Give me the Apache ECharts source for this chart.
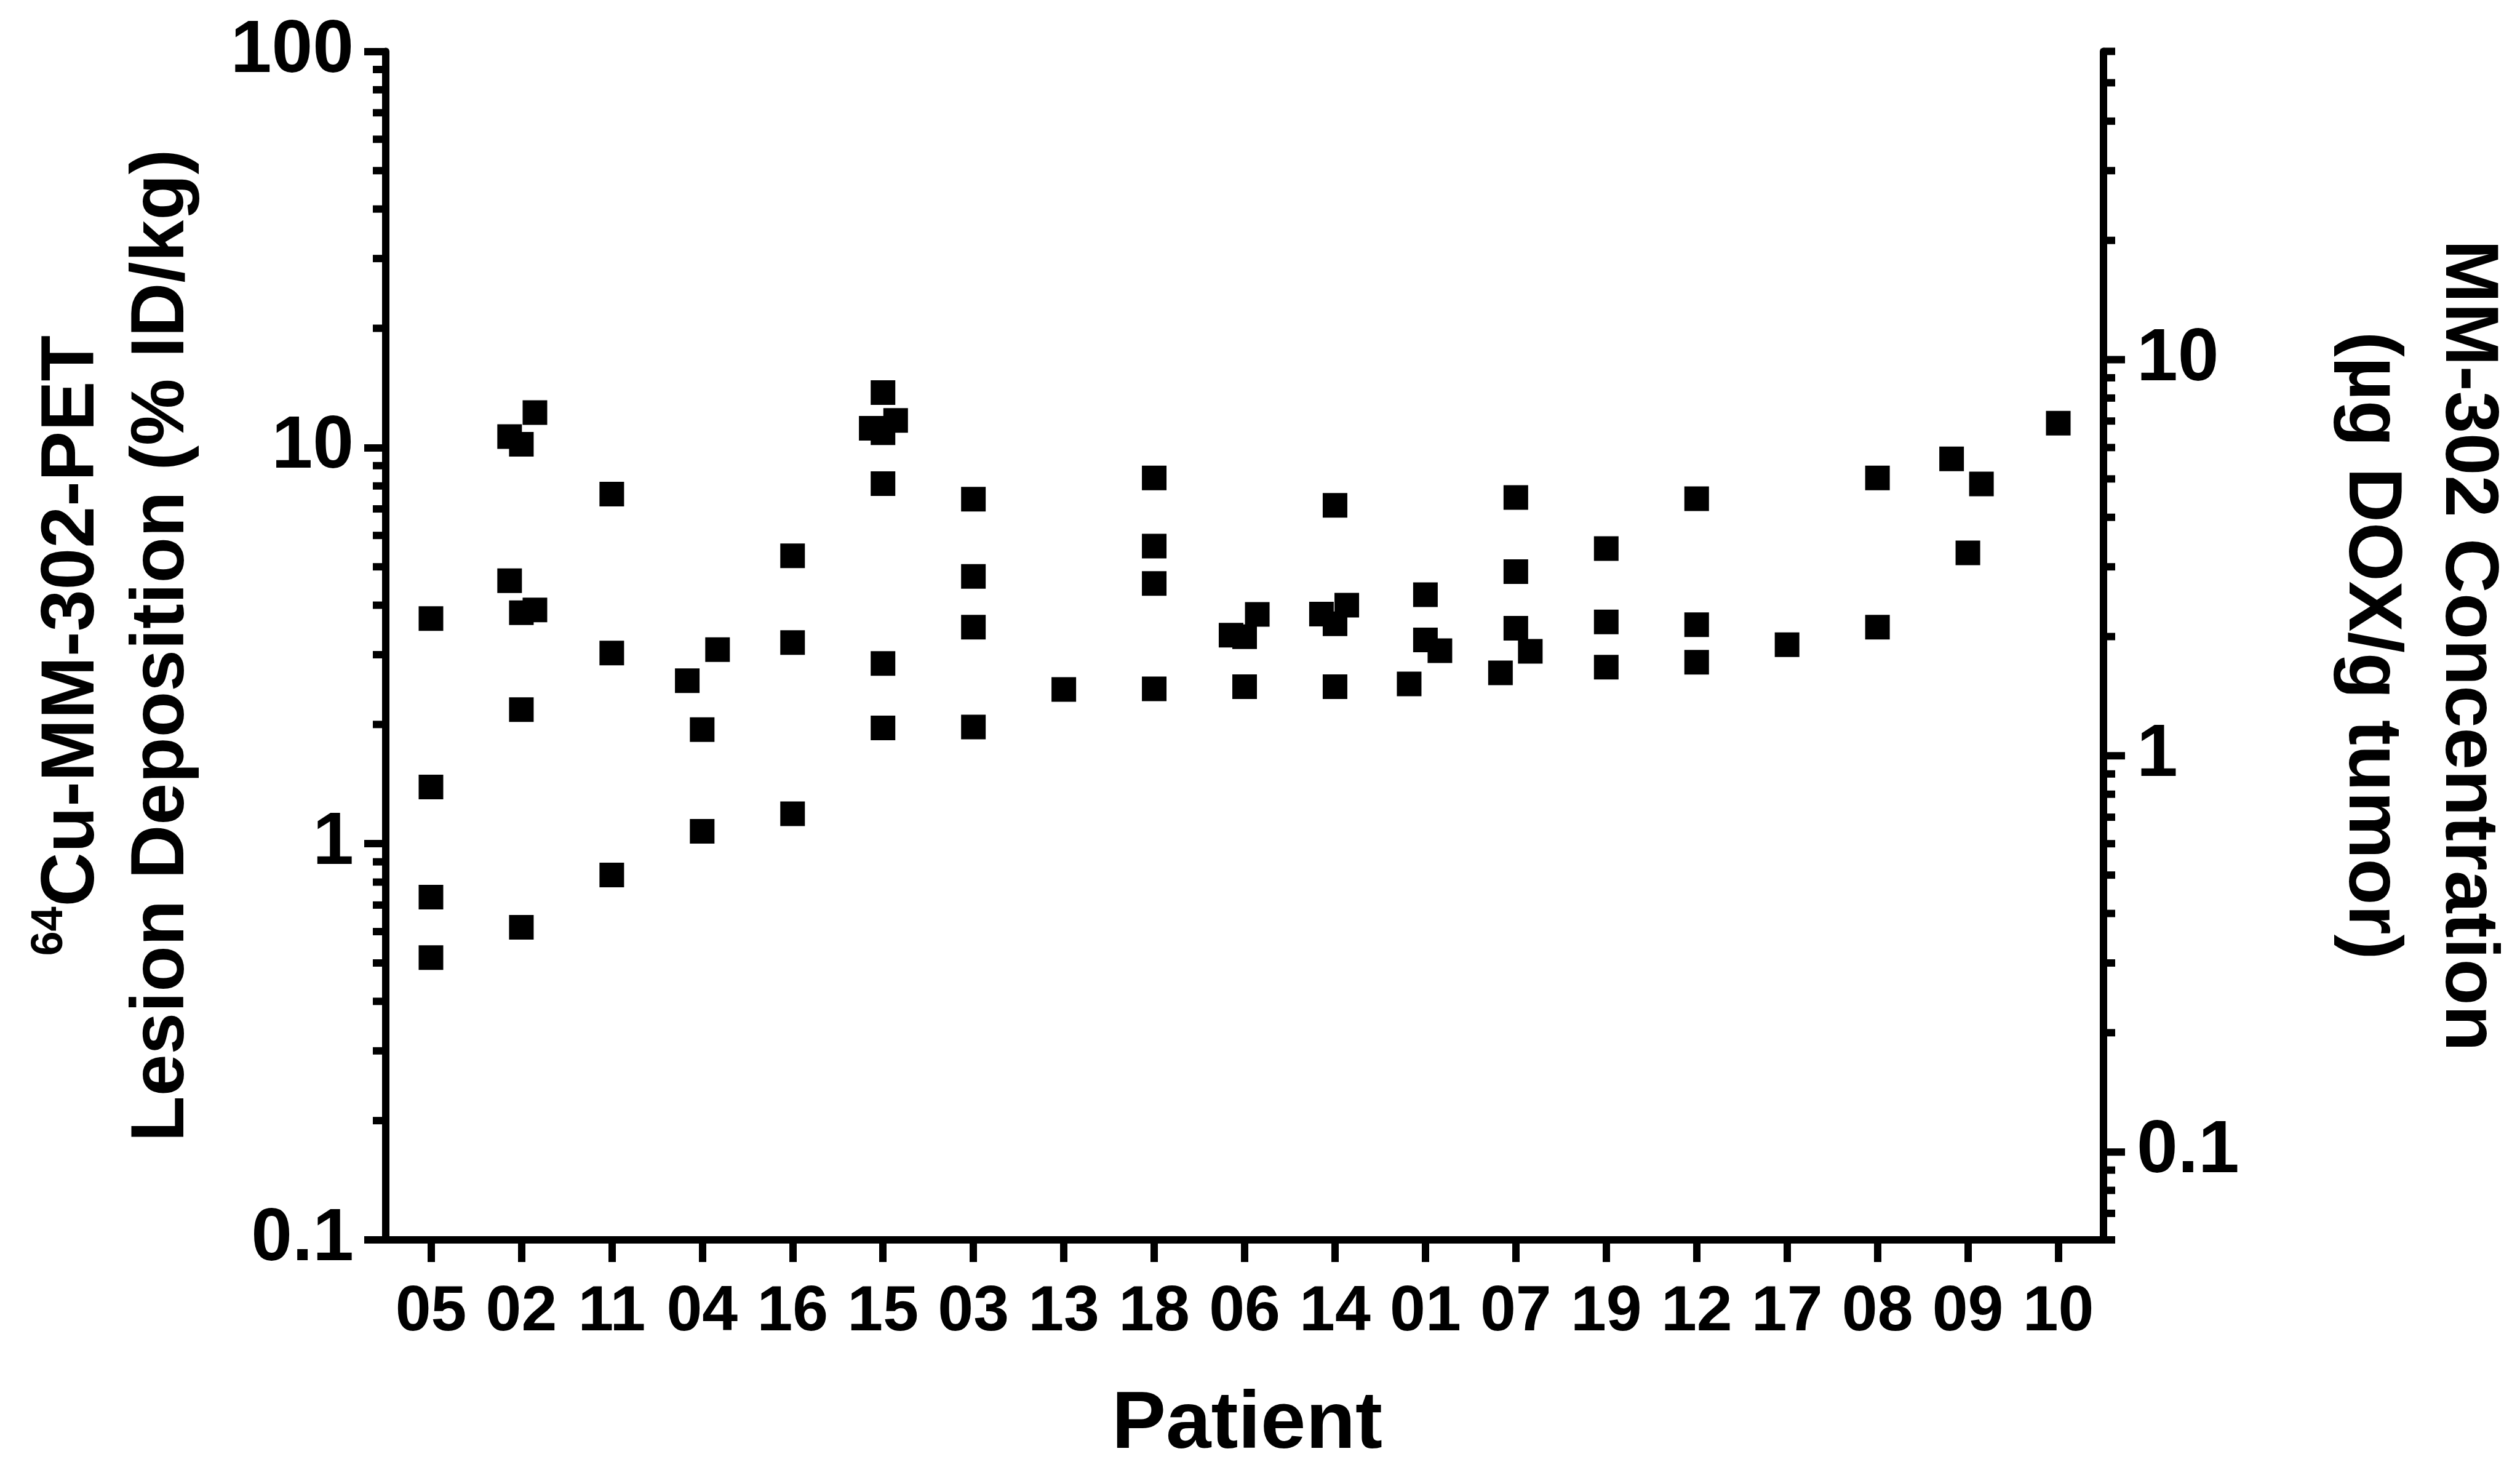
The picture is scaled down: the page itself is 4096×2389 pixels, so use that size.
<!DOCTYPE html>
<html><head><meta charset="utf-8">
<script src="https://cdn.jsdelivr.net/npm/echarts@6/dist/echarts.min.js"></script>
<style>html,body{margin:0;padding:0;background:#fff}#chart{width:4096px;height:2389px}</style>
</head><body><div id="chart"></div>
<script>
// ---- data ----
const patients = ['05','02','11','04','16','15','03','13','18','06','14','01','07','19','12','17','08','09','10'];
const pointPatient = [
  '05','05','05','05',
  '02','02','02','02','02','02','02','02',
  '11','11','11',
  '04','04','04','04',
  '16','16','16',
  '15','15','15','15','15','15','15',
  '03','03','03','03',
  '13',
  '18','18','18','18',
  '06','06','06','06',
  '14','14','14','14','14',
  '01','01','01','01',
  '07','07','07','07','07',
  '19','19','19',
  '12','12','12',
  '17',
  '08','08',
  '09','09','09',
  '10'
];
const pointValue = [
  3.70, 1.39, 0.733, 0.516,
  10.66, 10.19, 12.25, 4.61, 3.83, 3.89, 2.18, 0.615,
  7.63, 3.03, 0.834,
  3.09, 2.58, 1.94, 1.075,
  5.33, 3.22, 1.19,
  13.77, 11.71, 11.19, 10.9, 8.11, 2.85, 1.96,
  7.41, 4.73, 3.52, 1.97,
  2.45,
  8.38, 5.64, 4.54, 2.46,
  3.79, 3.36, 3.33, 2.49,
  7.15, 3.80, 4.00, 3.59, 2.49,
  4.25, 3.27, 3.07, 2.53,
  7.48, 4.86, 3.50, 3.06, 2.70,
  5.56, 3.63, 2.79,
  7.43, 3.57, 2.87,
  3.18,
  8.38, 3.52,
  9.36, 8.09, 5.42,
  11.52
];
// horizontal jitter of overlapping points, in category widths
const pointJitter = [
  0, 0, 0, 0,
  -0.13, 0, 0.15, -0.13, 0, 0.15, 0, 0,
  0, 0, 0,
  0.17, -0.165, 0, 0,
  0, 0, 0,
  0, 0.14, -0.13, 0, 0, 0, 0,
  0, 0, 0, 0,
  0,
  0, 0, 0, 0,
  0.14, -0.15, 0, 0,
  0, -0.15, 0.13, 0, 0,
  0, 0, 0.16, -0.18,
  0, 0, 0, 0.16, -0.17,
  0, 0, 0,
  0, 0, 0,
  0,
  0, 0,
  -0.18, 0.15, 0,
  0
];
const leftMin = 0.1, leftMax = 100;
const rightMin = 0.06, rightMax = 60;
const leftMinorTicks = [0.2,0.3,0.4,0.5,0.6,0.7,0.8,0.9,2,3,4,5,6,7,8,9,20,30,40,50,60,70,80,90];
const rightMajorTicks = [0.1, 1, 10];
const rightMinorTicks = [0.06,0.07,0.08,0.09,0.2,0.3,0.4,0.5,0.6,0.7,0.8,0.9,2,3,4,5,6,7,8,9,20,30,40,50,60];

// ---- chart ----
const FONT = 'Liberation Sans';
const LW = 12;
const chart = echarts.init(document.getElementById('chart'), null, {renderer: 'canvas'});

const scatterData = pointValue.map((v, i) => [patients.indexOf(pointPatient[i]) + pointJitter[i], v]);

function tickSeries(values, yAxisIndex, side, len) {
  return {
    type: 'custom', xAxisIndex: 1, yAxisIndex: yAxisIndex, silent: true, clip: false, z: 5,
    data: values.map(v => [0, v]),
    renderItem: function (params, api) {
      const cs = params.coordSys;
      const y = api.coord([0, api.value(1)])[1];
      const x0 = side === 'left' ? cs.x : cs.x + cs.width;
      const x1 = side === 'left' ? x0 - len : x0 + len;
      return {type: 'line', shape: {x1: x0, y1: y, x2: x1, y2: y},
              style: {stroke: '#000', lineWidth: LW, lineCap: 'butt'}};
    }
  };
}

function powerLabel(v) {
  const l = Math.log10(v);
  if (Math.abs(l - Math.round(l)) > 1e-6) return '';
  return String(+Number(v).toPrecision(6));
}

const option = {
  backgroundColor: '#ffffff',
  animation: false,
  grid: {left: 627, right: 645, top: 83.5, bottom: 374, containLabel: false},
  xAxis: [
    {
      type: 'category', data: patients, boundaryGap: true,
      name: 'Patient', nameLocation: 'middle', nameGap: 236,
      nameTextStyle: {fontFamily: FONT, fontWeight: 'bold', fontSize: 132, color: '#000', padding: [0, 0, 0, 8]},
      axisLine: {show: true, onZero: false, lineStyle: {color: '#000', width: LW}},
      axisTick: {show: true, alignWithLabel: true, interval: 0, length: 36, lineStyle: {color: '#000', width: LW}},
      axisLabel: {interval: 0, margin: 66, fontFamily: FONT, fontWeight: 'bold', fontSize: 104, color: '#000'},
      splitLine: {show: false}
    },
    {type: 'value', min: -0.5, max: patients.length - 0.5, show: false}
  ],
  yAxis: [
    {
      type: 'log', logBase: 10, min: leftMin, max: leftMax, position: 'left',
      name: '{sup|64}{t|Cu-MM-302-PET}\n{t|Lesion Deposition (% ID/kg)}',
      nameLocation: 'middle', nameRotate: 90, nameGap: 290,
      nameTextStyle: {
        fontFamily: FONT, fontWeight: 'bold', fontSize: 122, color: '#000', lineHeight: 146,
        rich: {
          t: {fontFamily: FONT, fontWeight: 'bold', fontSize: 122, color: '#000', lineHeight: 146},
          sup: {fontFamily: FONT, fontWeight: 'bold', fontSize: 72, color: '#000', lineHeight: 80, verticalAlign: 'top'}
        }
      },
      axisLine: {show: true, onZero: false, lineStyle: {color: '#000', width: LW}},
      axisTick: {show: true, length: 35, lineStyle: {color: '#000', width: LW}},
      axisLabel: {margin: 52, fontFamily: FONT, fontWeight: 'bold', fontSize: 120, color: '#000', formatter: powerLabel},
      splitLine: {show: false}, minorTick: {show: false}
    },
    {
      type: 'log', logBase: 10, min: rightMin, max: rightMax, position: 'right',
      name: 'MM-302 Concentration\n(µg DOX/g tumor)',
      nameLocation: 'middle', nameRotate: -90, nameGap: 355,
      nameTextStyle: {fontFamily: FONT, fontWeight: 'bold', fontSize: 123, color: '#000', lineHeight: 157},
      axisLine: {show: true, onZero: false, lineStyle: {color: '#000', width: LW}},
      axisTick: {show: false},
      axisLabel: {margin: 54, fontFamily: FONT, fontWeight: 'bold', fontSize: 120, color: '#000',
                  showMinLabel: false, showMaxLabel: false, formatter: powerLabel},
      splitLine: {show: false}
    }
  ],
  series: [
    {
      type: 'scatter', xAxisIndex: 1, yAxisIndex: 0, data: scatterData,
      symbol: 'rect', symbolSize: 40, itemStyle: {color: '#000', opacity: 1}, z: 10, silent: true
    },
    tickSeries(leftMinorTicks, 0, 'left', 21),
    tickSeries(rightMajorTicks, 1, 'right', 35),
    tickSeries(rightMinorTicks, 1, 'right', 19)
  ]
};
chart.setOption(option);
</script>
</body></html>
